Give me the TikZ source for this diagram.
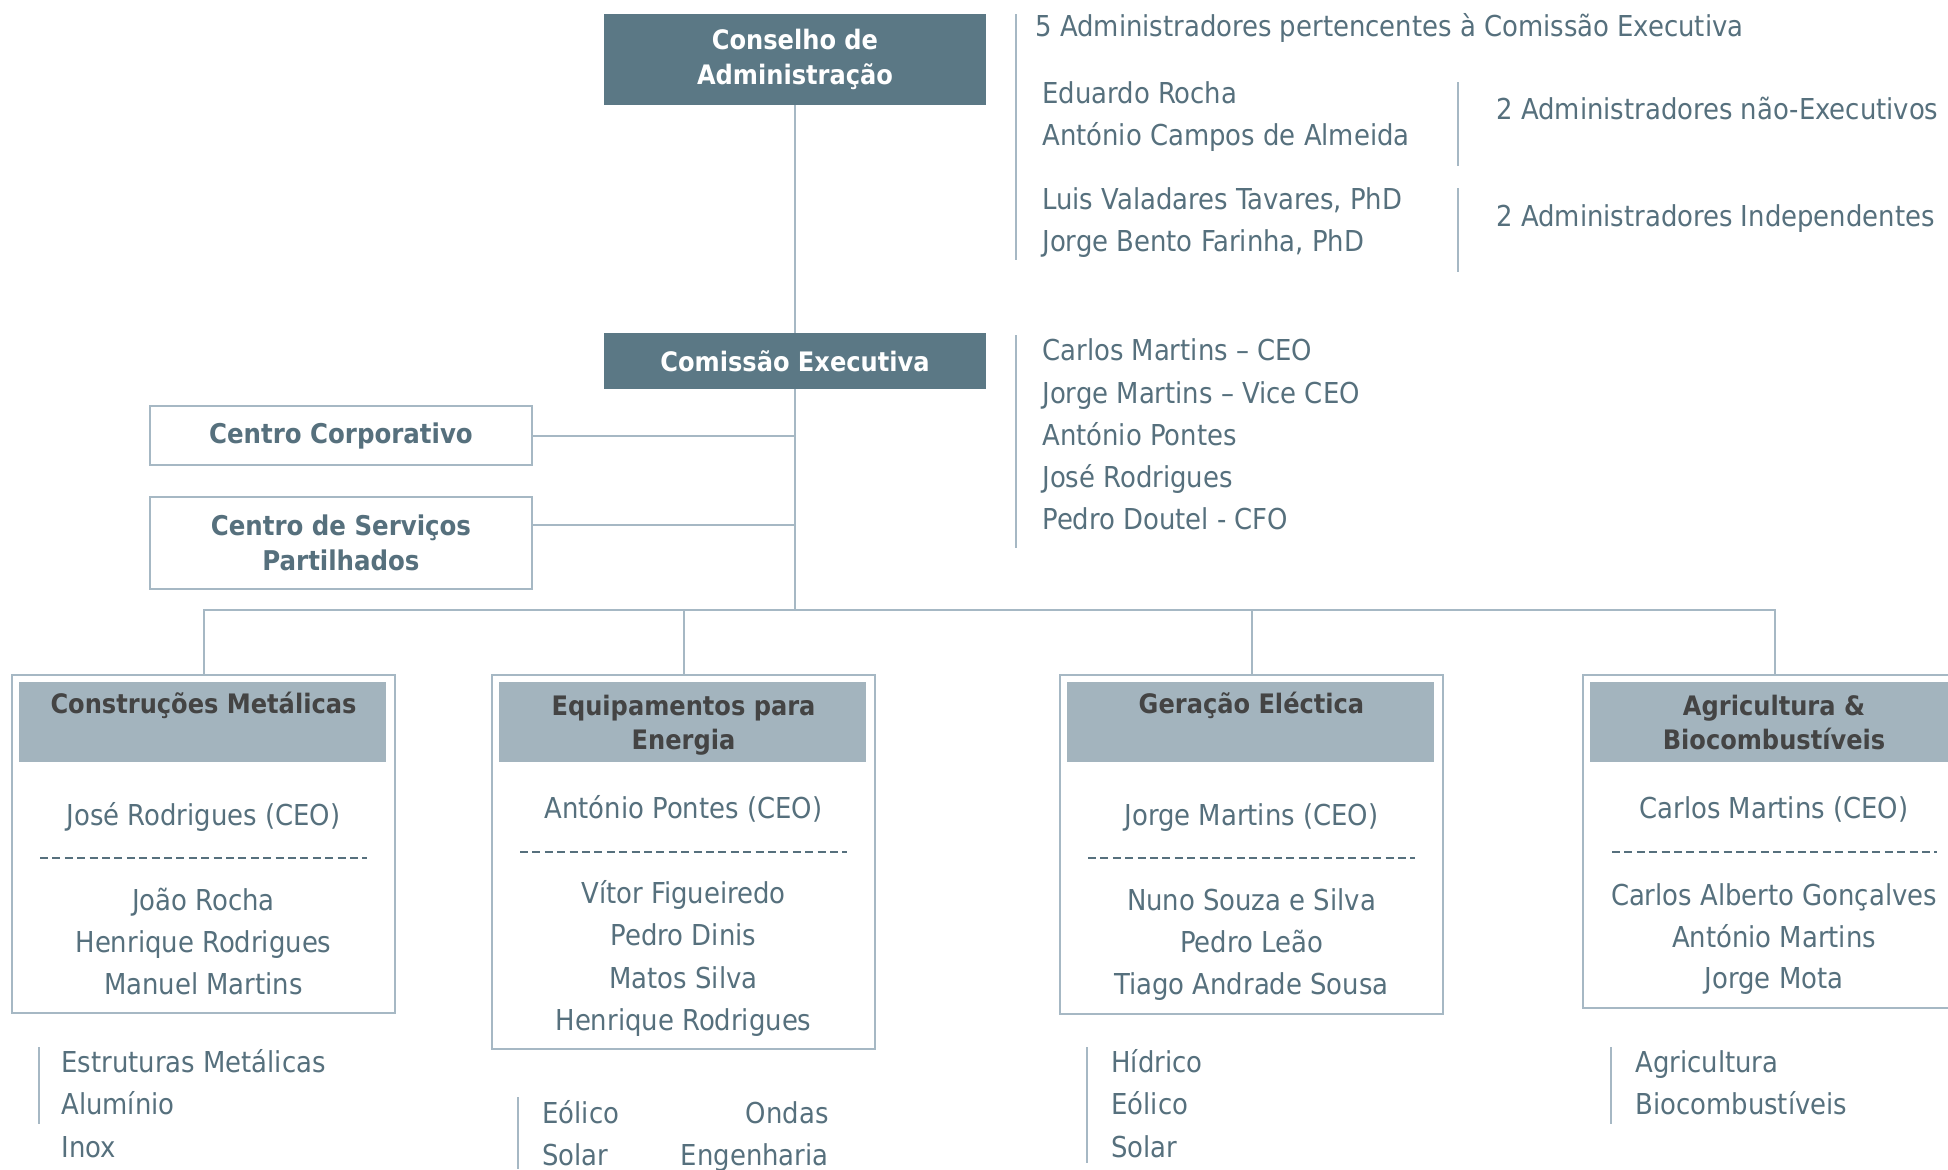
\documentclass[tikz,border=0pt]{standalone}
\usepackage{fontspec}
\setmainfont{DejaVu Sans Condensed}
\definecolor{darkC}{RGB}{91,120,133}
\definecolor{slateC}{RGB}{86,112,125}
\definecolor{lightC}{RGB}{163,180,190}
\definecolor{lineC}{RGB}{166,184,196}
\definecolor{hdrC}{RGB}{68,68,68}
\begin{document}
\begin{tikzpicture}[x=0.5pt,y=-0.5pt,
  txt/.style={text=slateC, font=\fontsize{14.4}{21}\selectfont, inner sep=0pt},
  lt/.style={txt, anchor=base west},
  rt/.style={txt, anchor=base east},
  ct/.style={txt, anchor=base},
  hd/.style={text=hdrC, font=\bfseries\fontsize{13.4}{18}\selectfont, anchor=base, inner sep=0pt},
  conn/.style={draw=lineC, line width=1pt},
  vbar/.style={draw=lineC, line width=1pt},
  dashsep/.style={draw=slateC, line width=0.9pt, dash pattern=on 4pt off 2.2pt},
  darkbox/.style={fill=darkC, text=white, font=\bfseries\fontsize{13.4}{17.5}\selectfont, minimum width=191pt, align=center, inner sep=0pt},
  wbox/.style={draw=lineC, line width=1pt, fill=white, text=slateC, font=\bfseries\fontsize{13.6}{17.5}\selectfont, minimum width=191pt, align=center, inner sep=0pt},
  divbox/.style={draw=lineC, line width=1pt, fill=white, minimum width=191.5pt, inner sep=0pt, anchor=north},
  hdrbox/.style={fill=lightC, minimum width=183.5pt, minimum height=40pt, inner sep=0pt, anchor=north}
]
\useasboundingbox (0,0) rectangle (1948,1169);

% top boxes
\node[darkbox, minimum height=45.5pt] (cons) at (795,59) {Conselho de\\Administração};
\node[darkbox, minimum height=28pt] (comi) at (795,361) {Comissão Executiva};
\node[wbox, minimum height=29.5pt] (cc) at (341,435.5) {Centro Corporativo};
\node[wbox, minimum height=46pt] (csp) at (341,543) {Centro de Serviços\\Partilhados};

\coordinate (bus) at (795,610);

% division boxes
\node[divbox, minimum height=169pt] (cm) at (203.5,674) {};
\node[divbox, minimum height=187pt] (epe) at (683.5,674) {};
\node[divbox, minimum height=169.5pt] (ge) at (1251.5,674) {};
\node[divbox, minimum height=166.5pt] (ab) at (1774.5,674) {};

% connectors
\draw[conn] (cons.south) -- (comi.north);
\draw[conn] (comi.south) -- (bus);
\draw[conn] (cc.east) -- (cc.east -| bus);
\draw[conn] ([yshift=9pt]csp.east) -- ([yshift=9pt]csp.east -| bus);
\draw[conn] (cm.north) |- (bus) -| (ab.north);
\draw[conn] (epe.north) -- (epe.north |- bus);
\draw[conn] (ge.north) -- (ge.north |- bus);

% headers
\node[hdrbox] (cmh) at (202.5,682) {};
\node[hdrbox] (epeh) at (682.5,682) {};
\node[hdrbox] (geh) at (1250.5,682) {};
\node[hdrbox] (abh) at (1773.5,682) {};

\node[hd] (cmt) at (203.5,713) {Construções Metálicas};
\node[hd] (epet1) at (683.5,715) {Equipamentos para};
\node[hd] (epet2) at (683.5,749) {Energia};
\node[hd] (get) at (1251.5,713) {Geração Eléctica};
\node[hd] (abt1) at (1774,715) {Agricultura \&};
\node[hd] (abt2) at (1774,749) {Biocombustíveis};

% box contents
\node[ct] (cm0) at (203.5,825) {José Rodrigues (CEO)};
\draw[dashsep] (40,858) -- (367,858);
\node[ct] (cm1) at (203.5,910) {João Rocha};
\node[ct] (cm2) at (203.5,952) {Henrique Rodrigues};
\node[ct] (cm3) at (203.5,994) {Manuel Martins};

\node[ct] (ep0) at (683.5,818) {António Pontes (CEO)};
\draw[dashsep] (520,852) -- (847,852);
\node[ct] (ep1) at (683.5,903) {Vítor Figueiredo};
\node[ct] (ep2) at (683.5,945) {Pedro Dinis};
\node[ct] (ep3) at (683.5,988) {Matos Silva};
\node[ct] (ep4) at (683.5,1030) {Henrique Rodrigues};

\node[ct] (ge0) at (1251.5,825) {Jorge Martins (CEO)};
\draw[dashsep] (1088,858) -- (1415,858);
\node[ct] (ge1) at (1251.5,910) {Nuno Souza e Silva};
\node[ct] (ge2) at (1251.5,952) {Pedro Leão};
\node[ct] (ge3) at (1251.5,994) {Tiago Andrade Sousa};

\node[ct] (ab0) at (1774,818) {Carlos Martins (CEO)};
\draw[dashsep] (1612,852) -- (1937,852);
\node[ct] (ab1) at (1774,905) {Carlos Alberto Gonçalves};
\node[ct] (ab2) at (1774,947) {António Martins};
\node[ct] (ab3) at (1774,988) {Jorge Mota};

% top-right info
\draw[vbar] (1016,14) -- (1016,260);
\node[lt] (i0) at (1035,36) {5 Administradores pertencentes à Comissão Executiva};
\node[lt] (i1) at (1042,103) {Eduardo Rocha};
\node[lt] (i2) at (1042,145) {António Campos de Almeida};
\node[lt] (i3) at (1042,209) {Luis Valadares Tavares, PhD};
\node[lt] (i4) at (1042,251) {Jorge Bento Farinha, PhD};
\draw[vbar] (1458,82) -- (1458,166);
\draw[vbar] (1458,188) -- (1458,272);
\node[lt] (i5) at (1496,119) {2 Administradores não-Executivos};
\node[lt] (i6) at (1496,226) {2 Administradores Independentes};

% comissao list
\draw[vbar] (1016,335) -- (1016,548);
\node[lt] (c1) at (1042,360) {Carlos Martins – CEO};
\node[lt] (c2) at (1042,403) {Jorge Martins – Vice CEO};
\node[lt] (c3) at (1042,445) {António Pontes};
\node[lt] (c4) at (1042,487) {José Rodrigues};
\node[lt] (c5) at (1042,529) {Pedro Doutel - CFO};

% bottom lists
\draw[vbar] (38.5,1047) -- (38.5,1124);
\node[lt] (b1) at (61,1072) {Estruturas Metálicas};
\node[lt] (b2) at (61,1114) {Alumínio};
\node[lt] (b3) at (61,1157) {Inox};

\draw[vbar] (518,1097) -- (518,1169);
\node[lt] (e1) at (542,1123) {Eólico};
\node[lt] (e2) at (542,1165) {Solar};
\node[rt] (e3) at (829,1123) {Ondas};
\node[rt] (e4) at (829,1165) {Engenharia};

\draw[vbar] (1087,1047) -- (1087,1163);
\node[lt] (g1) at (1111,1072) {Hídrico};
\node[lt] (g2) at (1111,1114) {Eólico};
\node[lt] (g3) at (1111,1157) {Solar};

\draw[vbar] (1611,1047) -- (1611,1124);
\node[lt] (a1) at (1635,1072) {Agricultura};
\node[lt] (a2) at (1635,1114) {Biocombustíveis};
\end{tikzpicture}
\end{document}
